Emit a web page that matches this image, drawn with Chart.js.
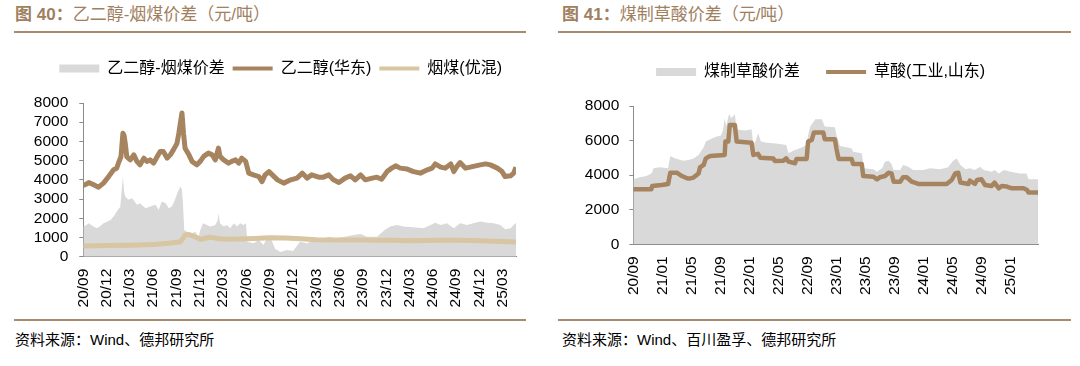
<!DOCTYPE html>
<html>
<head>
<meta charset="utf-8">
<script src="https://cdn.jsdelivr.net/npm/chart.js@4"></script>
<style>
body { margin: 0; background: #fff; width: 1080px; height: 366px; overflow: hidden; position: relative;
       font-family: "Liberation Sans", "Noto Sans CJK SC", sans-serif; }
.title { position: absolute; top: 5px; font-size: 17px; line-height: 20px; color: #a0805f; white-space: nowrap; }
.title b { font-weight: 700; }
.rule { position: absolute; height: 2px; background: #a68b6f; }
.source { position: absolute; top: 331px; font-size: 15px; line-height: 18px; color: #000; white-space: nowrap; }
canvas { position: absolute; top: 30px; }
</style>
</head>
<body>
<div class="title" style="left:15px"><b>图 40：</b>乙二醇-烟煤价差（元/吨）</div>
<div class="rule" style="left:14px;top:31px;width:512px"></div>
<canvas id="c40" width="540" height="285" style="left:0"></canvas>
<div class="rule" style="left:14px;top:319px;width:512px"></div>
<div class="source" style="left:15px">资料来源：Wind、德邦研究所</div>

<div class="title" style="left:562px"><b>图 41：</b>煤制草酸价差（元/吨）</div>
<div class="rule" style="left:558px;top:31px;width:513px"></div>
<canvas id="c41" width="540" height="285" style="left:540px"></canvas>
<div class="rule" style="left:558px;top:319px;width:513px"></div>
<div class="source" style="left:562px">资料来源：Wind、百川盈孚、德邦研究所</div>

<script>
// x values are months counted from 2020/09
var egMonths = [0, 0.4, 0.7, 1.33, 1.97, 2.6, 3.26, 3.9, 4.3, 4.55, 4.85, 5.1, 5.25, 5.4, 5.6, 6.05, 6.5, 6.9, 7.3, 7.8,
    8.2, 8.6, 9.05, 9.5, 9.9, 10.3, 10.8, 11.2, 11.6, 12.06, 12.3, 12.5, 12.7, 12.9, 13.1, 13.6, 14, 14.6, 15.06, 15.5,
    16.1, 16.6, 17, 17.4, 17.6, 18.07, 18.7, 19.1, 19.6, 20, 20.4, 20.9, 21.3, 21.9, 22.6, 23, 23.4, 23.9, 24.1, 25,
    25.8, 26.7, 27.5, 28.2, 28.8, 29.4, 30.3, 30.9, 31.6, 32.2, 32.9, 33.7, 34.4, 35, 35.7, 36.3, 37.2, 37.8, 38.4, 39.1,
    39.7, 40.2, 40.8, 41.7, 42.5, 43.4, 44.3, 44.9, 45.3, 46, 46.6, 47.3, 47.7, 48.1, 48.5, 49.2, 49.8, 50.5, 51.1, 51.8,
    52.4, 53.3, 53.9, 54.3, 55, 55.4, 55.7];
var egPrice = [3700, 3780, 3860, 3740, 3620, 3830, 4170, 4520, 4600, 4900, 5200, 6430, 6300, 5900, 5200, 5040, 5300, 4960, 4780, 5130,
    4960, 5040, 4870, 5200, 5480, 5480, 5130, 5300, 5560, 5900, 6430, 6960, 7480, 6430, 5650, 5300, 4960, 4780, 4960, 5220,
    5390, 5300, 5040, 5650, 5220, 5040, 4870, 4960, 5040, 4870, 5130, 4960, 4350, 4260, 4170, 3910, 4260, 4430, 4350, 4000,
    3830, 4000, 4090, 4350, 4090, 4260, 4140, 4140, 4260, 4000, 3860, 4090, 4210, 4000, 4260, 4000, 4090, 4140, 4030, 4430,
    4610, 4730, 4610, 4560, 4430, 4350, 4520, 4610, 4830, 4660, 4610, 4830, 4430, 4700, 4900, 4610, 4660, 4730, 4780, 4830,
    4780, 4610, 4430, 4170, 4210, 4350, 4660];

var coalMonths = [0, 3, 6, 9, 11, 12.5, 12.9, 13.1, 13.6, 14.1, 14.6, 15.1, 15.6, 16.2, 16.8, 17.5, 18.5, 20, 22, 24,
    26, 28, 30, 32, 34, 36, 38, 40, 42, 44, 46, 48, 50, 52, 54, 55.7];
var coalPrice = [560, 580, 600, 640, 700, 780, 1000, 1130, 1150, 1080, 1000, 900, 950, 1010, 990, 930, 910, 920, 950, 980,
    970, 930, 880, 870, 870, 870, 860, 850, 830, 840, 850, 850, 840, 820, 790, 760];

var spreadMonths = [0, 0.4, 0.7, 1.2, 1.76, 2.2, 2.6, 3, 3.5, 4, 4.3, 4.76, 4.95, 5.1, 5.25, 5.4, 5.8, 6.3, 6.9, 7.3,
    8, 8.6, 9.3, 9.7, 10.1, 10.6, 11, 11.4, 11.8, 12.1, 12.5, 12.7, 12.8, 13, 13.35, 14, 14.4, 14.85, 15.06, 15.4,
    15.9, 16.35, 17, 17.3, 17.4, 17.6, 18.07, 18.5, 18.9, 19.4, 19.8, 20.2, 20.6, 20.95, 21.1, 21.9, 22.6, 23.2, 23.6, 24.1,
    24.7, 25.4, 26.2, 27, 27.9, 28.8, 29.7, 30.5, 31.6, 32.5, 33.7, 34.8, 35.7, 36.5, 37.8, 38.8, 39.5, 40.4, 41.2, 42.5,
    43.8, 44.7, 45.3, 46, 46.8, 47.7, 48.5, 49.4, 50.2, 51.1, 52, 52.8, 53.7, 54.3, 55, 55.7];
var spreadValues = [1570, 1650, 1740, 1600, 1480, 1600, 1740, 1800, 1910, 2150, 2350, 2600, 3500, 4170, 3400, 3130, 2960, 3040, 2700, 2780,
    2520, 2610, 2700, 2430, 2870, 2780, 2520, 2610, 2960, 3300, 3650, 3480, 2960, 1390, 1300, 1220, 1300, 1040, 1390, 1740,
    1650, 1570, 1650, 1900, 2260, 1740, 1570, 1650, 1480, 1740, 1570, 1740, 1650, 1740, 780, 700, 870, 610, 960, 1000,
    400, 250, 350, 300, 780, 700, 870, 870, 1040, 960, 1040, 1130, 1180, 1040, 1040, 1390, 1570, 1650, 1570, 1530,
    1480, 1650, 1770, 1650, 1740, 1480, 1740, 1650, 1740, 1830, 1770, 1740, 1650, 1430, 1480, 1770];

var oxalicMonths = [0, 2.5, 2.6, 3.9, 4.8, 5.1, 6, 6.7, 7.4, 7.7, 8.3, 9, 9.2, 9.7, 10, 10.6, 12.6, 12.7, 13.1, 13.3,
    14, 14.25, 16.3, 16.55, 17.2, 17.5, 19.3, 19.5, 20.7, 21.1, 21.4, 22.3, 22.5, 23.9, 24.1, 24.6, 24.9, 26.2, 26.4, 27.8,
    28, 28.3, 30.1, 30.3, 31.5, 31.7, 33.1, 33.6, 34, 34.7, 35.2, 35.6, 35.9, 36.8, 37.2, 37.7, 38.4, 39.3, 43.2, 43.9,
    44.4, 44.8, 45.1, 46.2, 46.4, 47.1, 47.4, 48, 48.5, 49.4, 49.8, 50.4, 50.8, 51.5, 52.2, 53.8, 54.3, 54.5, 55.8];
var oxalicPrice = [3180, 3180, 3370, 3430, 3490, 4140, 4140, 3950, 3820, 3800, 3860, 4100, 4450, 4590, 4970, 5110, 5170, 5940, 5940, 6900,
    6900, 5940, 5880, 5170, 5230, 5010, 4970, 4820, 4840, 4970, 4780, 4690, 4940, 4940, 5940, 6030, 6460, 6460, 6070, 6070,
    5550, 4940, 4940, 4650, 4650, 3950, 3910, 3760, 3880, 3950, 4140, 4100, 3620, 3620, 3880, 3880, 3620, 3490, 3490, 3720,
    4100, 4140, 3570, 3490, 3680, 3490, 3720, 3760, 3430, 3370, 3570, 3240, 3370, 3340, 3240, 3240, 3140, 2990, 2990];

var oxSpreadMonths = [0, 0.9, 1.8, 2.5, 2.8, 3.7, 4.8, 5.1, 5.8, 6.9, 7.6, 8.3, 9, 9.7, 10, 10.6, 11.5, 12.1, 12.4, 12.6,
    12.8, 13.2, 13.5, 13.8, 14, 14.25, 14.7, 15.5, 16.3, 16.55, 16.9, 17.2, 17.6, 18.4, 19.3, 20.2, 21.1, 21.4, 22.1, 23,
    23.9, 24.1, 24.4, 25.1, 26, 26.4, 27.8, 28, 28.5, 30.1, 30.3, 31.5, 31.8, 33.1, 33.6, 34.3, 34.7, 35.2, 35.6, 35.9,
    36.8, 37.2, 37.9, 38.6, 40, 40.9, 42.3, 43.4, 44.1, 44.6, 45.1, 45.8, 46.4, 47.1, 47.8, 48.3, 49.4, 49.8, 50.4, 51.1,
    52, 53.3, 54.2, 54.5, 55.8];
var oxSpreadValues = [3760, 3880, 3950, 4100, 4400, 4450, 4400, 5110, 4970, 4840, 4880, 4970, 5170, 5610, 5940, 6070, 6230, 6300, 6650, 7290,
    6810, 7540, 7300, 7420, 7540, 6650, 6610, 6580, 6650, 5750, 6000, 6420, 5940, 5880, 5840, 5800, 5750, 5260, 5420, 5550,
    5750, 6300, 6810, 7230, 7230, 6810, 6770, 6320, 5690, 5550, 5360, 5260, 4400, 4340, 4200, 4400, 4780, 4840, 4650, 4300,
    4300, 4590, 4490, 4300, 4300, 4400, 4340, 4450, 4840, 4970, 4590, 4340, 4400, 4300, 4490, 4300, 4200, 4300, 4100, 4300,
    4200, 4100, 4100, 3760, 3760];

var ticks40 = ['20/09', '20/12', '21/03', '21/06', '21/09', '21/12', '22/03', '22/06', '22/09', '22/12',
    '23/03', '23/06', '23/09', '23/12', '24/03', '24/06', '24/09', '24/12', '25/03'];
var ticks41 = ['20/09', '21/01', '21/05', '21/09', '22/01', '22/05', '22/09', '23/01', '23/05', '23/09',
    '24/01', '24/05', '24/09', '25/01'];

var FONT = '"Liberation Sans", "Noto Sans CJK SC", sans-serif';
var GRAY = '#d9d9d9', BROWN = '#a6845f', BEIGE = '#d8c5a1', AXIS = '#8c8c8c';

function monthIndex(label) {
    var p = label.split('/');
    return (+p[0] - 20) * 12 + (+p[1] - 9);
}

function pairs(xs, ys) {
    return xs.map(function(x, i) { return {x: x, y: ys[i]}; });
}

function legendItems(chart) {
    return chart.data.datasets.map(function(ds, i) {
        var area = ds.fill === 'origin';
        return {
            text: ds.label,
            fillStyle: area ? ds.backgroundColor : ds.borderColor,
            strokeStyle: area ? ds.backgroundColor : ds.borderColor,
            lineWidth: area ? 0 : 4,
            pointStyle: area ? 'rect' : 'line',
            fontColor: '#000',
            hidden: false,
            datasetIndex: i
        };
    });
}

// fixes the legend box height so the plot starts where it should, and nudges it sideways
function legendBox(h, shift) {
    return {
        id: 'legendBox',
        beforeInit: function(chart) {
            var fit = chart.legend.fit;
            chart.legend.fit = function() { fit.call(this); this.height = h; };
        },
        afterLayout: function(chart) {
            chart.legend.left += shift;
            chart.legend.right += shift;
        }
    };
}

function area(label, data) {
    return {label: label, data: data, fill: 'origin', backgroundColor: GRAY, borderColor: GRAY,
            borderWidth: 0, pointRadius: 0, tension: 0, order: 3};
}

function line(label, data, color, width, order) {
    return {label: label, data: data, fill: false, borderColor: color, backgroundColor: color,
            borderWidth: width, pointRadius: 0, tension: 0, borderJoinStyle: 'round', order: order};
}

function options(cfg) {
    return {
        responsive: false,
        animation: false,
        devicePixelRatio: 1,
        layout: {padding: cfg.padding},
        plugins: {
            legend: {
                position: 'top',
                labels: {usePointStyle: true, pointStyleWidth: 40, boxHeight: 8, padding: cfg.legendPad,
                         color: '#000', font: {family: FONT, size: 16}, generateLabels: legendItems}
            },
            tooltip: {enabled: false}
        },
        scales: {
            x: {
                type: 'linear', min: 0, max: cfg.xMax,
                afterBuildTicks: function(scale) {
                    scale.ticks = cfg.tickLabels.map(function(t) { return {value: monthIndex(t)}; });
                },
                afterFit: function(scale) { scale.height = 55; },
                grid: {drawOnChartArea: false, tickLength: -4, color: AXIS},
                border: {color: AXIS},
                ticks: {
                    autoSkip: false, minRotation: 90, maxRotation: 90, padding: 16, color: '#000',
                    font: {family: FONT, size: 15.5},
                    callback: function(v, i) { return cfg.tickLabels[i]; }
                }
            },
            y: {
                min: 0, max: 8000,
                afterFit: function(scale) { scale.width = 54; },
                grid: {drawOnChartArea: false, tickLength: 4, color: AXIS},
                border: {color: AXIS},
                ticks: {stepSize: cfg.yStep, autoSkip: false, padding: cfg.yPad, color: '#000',
                        font: {family: FONT, size: 15.5},
                        callback: function(v) { return String(v); }}
            }
        }
    };
}

new Chart(document.getElementById('c40'), {
    type: 'line',
    data: {
        datasets: [
            area('乙二醇-烟煤价差', pairs(spreadMonths, spreadValues)),
            line('乙二醇(华东)', pairs(egMonths, egPrice), BROWN, 5, 2),
            line('烟煤(优混)', pairs(coalMonths, coalPrice), BEIGE, 5, 1)
        ]
    },
    options: options({padding: {left: 29.3, right: 24, top: 22.5, bottom: 3.3}, legendPad: 8,
                      xMax: 55.7, tickLabels: ticks40, yStep: 1000, yPad: 11}),
    plugins: [legendBox(50.5, 8)]
});

new Chart(document.getElementById('c41'), {
    type: 'line',
    data: {
        datasets: [
            area('煤制草酸价差', pairs(oxSpreadMonths, oxSpreadValues)),
            line('草酸(工业,山东)', pairs(oxalicMonths, oxalicPrice), BROWN, 4.5, 1)
        ]
    },
    options: options({padding: {left: 39.3, right: 42, top: 8, bottom: 15.7}, legendPad: 26,
                      xMax: 55.8, tickLabels: ticks41, yStep: 2000, yPad: 10}),
    plugins: [legendBox(68, 12)]
});
</script>
</body>
</html>
